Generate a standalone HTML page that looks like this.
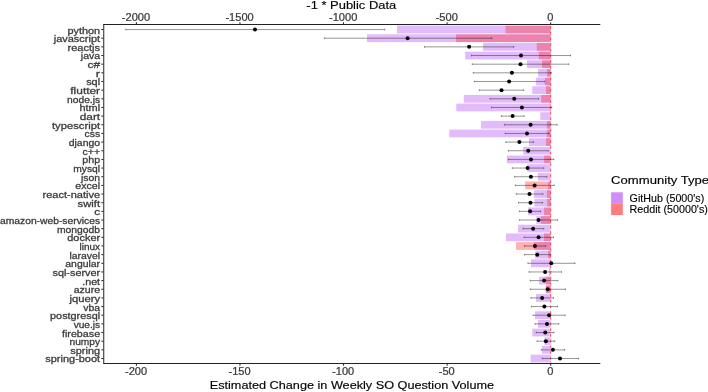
<!DOCTYPE html>
<html><head><meta charset="utf-8"><title>chart</title>
<style>
html,body{margin:0;padding:0;background:#fff;}
body{width:708px;height:392px;overflow:hidden;}
svg{display:block;will-change:transform;opacity:0.999;font-family:"Liberation Sans",sans-serif;}
.yl{font-size:9.6px;fill:#3c3c3c;stroke:#3c3c3c;stroke-width:0.3px;text-anchor:end;}
.xl{font-size:10.2px;fill:#3c3c3c;stroke:#3c3c3c;stroke-width:0.25px;text-anchor:middle;}
.ti{font-size:11.7px;fill:#000;stroke:#000;stroke-width:0.15px;text-anchor:middle;}
.lt{font-size:11.85px;fill:#000;stroke:#000;stroke-width:0.15px;}
.ll{font-size:10.3px;fill:#000;stroke:#000;stroke-width:0.12px;}
</style></head><body>
<svg width="708" height="392" viewBox="0 0 708 392">
<rect width="708" height="392" fill="#fff"/>
<g fill="#a020f0" fill-opacity="0.3">
<rect x="397" y="25.65" width="153.7" height="7.79"/>
<rect x="367" y="34.31" width="183.7" height="7.79"/>
<rect x="483" y="42.97" width="67.7" height="7.79"/>
<rect x="465.1" y="51.63" width="85.6" height="7.79"/>
<rect x="527" y="60.28" width="23.7" height="7.79"/>
<rect x="538.1" y="68.94" width="12.6" height="7.79"/>
<rect x="536.1" y="77.6" width="14.6" height="7.79"/>
<rect x="532.25" y="86.25" width="18.45" height="7.79"/>
<rect x="463.75" y="94.91" width="86.95" height="7.79"/>
<rect x="456.25" y="103.57" width="94.45" height="7.79"/>
<rect x="540.25" y="112.22" width="10.45" height="7.79"/>
<rect x="481" y="120.88" width="69.7" height="7.79"/>
<rect x="449.25" y="129.54" width="101.45" height="7.79"/>
<rect x="529" y="138.2" width="21.7" height="7.79"/>
<rect x="523.25" y="146.85" width="27.45" height="7.79"/>
<rect x="506.9" y="155.51" width="43.8" height="7.79"/>
<rect x="527.25" y="164.17" width="23.45" height="7.79"/>
<rect x="537.9" y="172.82" width="12.8" height="7.79"/>
<rect x="548.1" y="181.48" width="2.6" height="7.79"/>
<rect x="534" y="190.14" width="16.7" height="7.79"/>
<rect x="534.4" y="198.79" width="16.3" height="7.79"/>
<rect x="528.1" y="207.45" width="22.6" height="7.79"/>
<rect x="536.25" y="216.11" width="14.45" height="7.79"/>
<rect x="518.1" y="224.77" width="32.6" height="7.79"/>
<rect x="506" y="233.42" width="44.7" height="7.79"/>
<rect x="534" y="242.08" width="16.7" height="7.79"/>
<rect x="535.25" y="250.74" width="15.45" height="7.79"/>
<rect x="531" y="259.39" width="19.7" height="7.79"/>
<rect x="548.75" y="268.05" width="1.95" height="7.79"/>
<rect x="539.1" y="276.71" width="11.6" height="7.79"/>
<rect x="545.5" y="285.36" width="5.2" height="7.79"/>
<rect x="536" y="294.02" width="14.7" height="7.79"/>
<rect x="535" y="311.34" width="15.7" height="7.79"/>
<rect x="537.9" y="319.99" width="12.8" height="7.79"/>
<rect x="532.25" y="328.65" width="18.45" height="7.79"/>
<rect x="544.4" y="337.31" width="6.3" height="7.79"/>
<rect x="541.9" y="345.96" width="8.8" height="7.79"/>
<rect x="530.6" y="354.62" width="20.1" height="7.79"/>
</g>
<g fill="#ff0000" fill-opacity="0.3">
<rect x="505.5" y="25.65" width="45.2" height="7.79"/>
<rect x="456" y="34.31" width="94.7" height="7.79"/>
<rect x="536.75" y="42.97" width="13.95" height="7.79"/>
<rect x="538.75" y="51.63" width="11.95" height="7.79"/>
<rect x="542" y="60.28" width="8.7" height="7.79"/>
<rect x="547.1" y="68.94" width="3.6" height="7.79"/>
<rect x="545" y="77.6" width="5.7" height="7.79"/>
<rect x="546" y="86.25" width="4.7" height="7.79"/>
<rect x="541.25" y="94.91" width="9.45" height="7.79"/>
<rect x="549.75" y="103.57" width="0.95" height="7.79"/>
<rect x="546.9" y="120.88" width="3.8" height="7.79"/>
<rect x="546.9" y="129.54" width="3.8" height="7.79"/>
<rect x="546" y="138.2" width="4.7" height="7.79"/>
<rect x="544.1" y="155.51" width="6.6" height="7.79"/>
<rect x="525.1" y="181.48" width="25.6" height="7.79"/>
<rect x="546.9" y="190.14" width="3.8" height="7.79"/>
<rect x="547.1" y="198.79" width="3.6" height="7.79"/>
<rect x="544.1" y="207.45" width="6.6" height="7.79"/>
<rect x="541" y="216.11" width="9.7" height="7.79"/>
<rect x="544" y="233.42" width="6.7" height="7.79"/>
<rect x="516" y="242.08" width="34.7" height="7.79"/>
<rect x="548.1" y="250.74" width="2.6" height="7.79"/>
<rect x="545.9" y="276.71" width="4.8" height="7.79"/>
<rect x="546" y="285.36" width="4.7" height="7.79"/>
</g>
<line x1="550.7" y1="24.5" x2="550.7" y2="363.5" stroke="#ff0000" stroke-opacity="0.75" stroke-width="0.85" stroke-dasharray="2.9 2.8" stroke-dashoffset="4.1"/>
<g stroke="#000" stroke-opacity="0.6" stroke-width="0.7" fill="none">
<path d="M125.75 29.55H384.75M125.75 28.68V30.42M384.75 28.68V30.42"/>
<path d="M324.25 38.21H491.75M324.25 37.34V39.07M491.75 37.34V39.07"/>
<path d="M424.5 46.86H513.75M424.5 46V47.73M513.75 46V47.73"/>
<path d="M471.4 55.52H570.5M471.4 54.66V56.39M570.5 54.66V56.39"/>
<path d="M472.25 64.18H568.75M472.25 63.31V65.04M568.75 63.31V65.04"/>
<path d="M473.25 72.83H551.25M473.25 71.97V73.7M551.25 71.97V73.7"/>
<path d="M474.25 81.49H544.75M474.25 80.63V82.36M544.75 80.63V82.36"/>
<path d="M479.25 90.15H523.75M479.25 89.28V91.01M523.75 89.28V91.01"/>
<path d="M490 98.81H538.5M490 97.94V99.67M538.5 97.94V99.67"/>
<path d="M491.5 107.46H551.75M491.5 106.6V108.33M551.75 106.6V108.33"/>
<path d="M501.25 116.12H524.1M501.25 115.25V116.99M524.1 115.25V116.99"/>
<path d="M504.4 124.78H557.1M504.4 123.91V125.64M557.1 123.91V125.64"/>
<path d="M505.25 133.43H549M505.25 132.57V134.3M549 132.57V134.3"/>
<path d="M505.9 142.09H533.4M505.9 141.23V142.96M533.4 141.23V142.96"/>
<path d="M508.4 150.75H548.25M508.4 149.88V151.61M548.25 149.88V151.61"/>
<path d="M508.4 159.41H553.75M508.4 158.54V160.27M553.75 158.54V160.27"/>
<path d="M512.25 168.06H543.75M512.25 167.2V168.93M543.75 167.2V168.93"/>
<path d="M514.6 176.72H546.9M514.6 175.85V177.58M546.9 175.85V177.58"/>
<path d="M515.25 185.38H554.25M515.25 184.51V186.24M554.25 184.51V186.24"/>
<path d="M516.25 194.03H542.9M516.25 193.17V194.9M542.9 193.17V194.9"/>
<path d="M518.5 202.69H542.6M518.5 201.82V203.56M542.6 201.82V203.56"/>
<path d="M519.4 211.35H540.6M519.4 210.48V212.21M540.6 210.48V212.21"/>
<path d="M519.6 220H557.6M519.6 219.14V220.87M557.6 219.14V220.87"/>
<path d="M523 228.66H543.75M523 227.8V229.53M543.75 227.8V229.53"/>
<path d="M524 237.32H553.5M524 236.45V238.18M553.5 236.45V238.18"/>
<path d="M524.4 245.98H545.6M524.4 245.11V246.84M545.6 245.11V246.84"/>
<path d="M524.4 254.63H550.4M524.4 253.77V255.5M550.4 253.77V255.5"/>
<path d="M527.9 263.29H575M527.9 262.42V264.15M575 262.42V264.15"/>
<path d="M529.1 271.95H561.5M529.1 271.08V272.81M561.5 271.08V272.81"/>
<path d="M530.25 280.6H557.9M530.25 279.74V281.47M557.9 279.74V281.47"/>
<path d="M530.25 289.26H565.4M530.25 288.39V290.13M565.4 288.39V290.13"/>
<path d="M531 297.92H553.5M531 297.05V298.78M553.5 297.05V298.78"/>
<path d="M531.5 306.57H557.5M531.5 305.71V307.44M557.5 305.71V307.44"/>
<path d="M533.1 315.23H565.1M533.1 314.37V316.1M565.1 314.37V316.1"/>
<path d="M535 323.89H558.75M535 323.02V324.75M558.75 323.02V324.75"/>
<path d="M536.25 332.55H554M536.25 331.68V333.41M554 331.68V333.41"/>
<path d="M537.1 341.2H554.75M537.1 340.34V342.07M554.75 340.34V342.07"/>
<path d="M541.25 349.86H564.75M541.25 348.99V350.72M564.75 348.99V350.72"/>
<path d="M542.25 358.52H578.5M542.25 357.65V359.38M578.5 357.65V359.38"/>
</g>
<g fill="#000">
<circle cx="255" cy="29.55" r="2"/>
<circle cx="407.6" cy="38.21" r="2"/>
<circle cx="469.1" cy="46.86" r="2"/>
<circle cx="521" cy="55.52" r="2"/>
<circle cx="520.5" cy="64.18" r="2"/>
<circle cx="511.9" cy="72.83" r="2"/>
<circle cx="509.1" cy="81.49" r="2"/>
<circle cx="501.5" cy="90.15" r="2"/>
<circle cx="514.25" cy="98.81" r="2"/>
<circle cx="521.9" cy="107.46" r="2"/>
<circle cx="512.6" cy="116.12" r="2"/>
<circle cx="530.6" cy="124.78" r="2"/>
<circle cx="527" cy="133.43" r="2"/>
<circle cx="519.4" cy="142.09" r="2"/>
<circle cx="528.25" cy="150.75" r="2"/>
<circle cx="531" cy="159.41" r="2"/>
<circle cx="527.6" cy="168.06" r="2"/>
<circle cx="530.9" cy="176.72" r="2"/>
<circle cx="534.6" cy="185.38" r="2"/>
<circle cx="529.5" cy="194.03" r="2"/>
<circle cx="530.5" cy="202.69" r="2"/>
<circle cx="530.1" cy="211.35" r="2"/>
<circle cx="538.6" cy="220" r="2"/>
<circle cx="533.1" cy="228.66" r="2"/>
<circle cx="538.6" cy="237.32" r="2"/>
<circle cx="534.9" cy="245.98" r="2"/>
<circle cx="537.25" cy="254.63" r="2"/>
<circle cx="551.25" cy="263.29" r="2"/>
<circle cx="545.1" cy="271.95" r="2"/>
<circle cx="544.1" cy="280.6" r="2"/>
<circle cx="547.75" cy="289.26" r="2"/>
<circle cx="542.1" cy="297.92" r="2"/>
<circle cx="544.4" cy="306.57" r="2"/>
<circle cx="549.1" cy="315.23" r="2"/>
<circle cx="547" cy="323.89" r="2"/>
<circle cx="545.25" cy="332.55" r="2"/>
<circle cx="545.9" cy="341.2" r="2"/>
<circle cx="552.9" cy="349.86" r="2"/>
<circle cx="560" cy="358.52" r="2"/>
</g>
<g stroke="#222" stroke-width="1" fill="none">
<path d="M103.25 24.5H600.3"/>
<path d="M103.25 363.5H600.3"/>
<path d="M103.75 24.5V363.5"/>
</g>
<g stroke="#222" stroke-width="1" fill="none">
<path d="M101.35 29.55H103.25"/>
<path d="M101.35 38.21H103.25"/>
<path d="M101.35 46.86H103.25"/>
<path d="M101.35 55.52H103.25"/>
<path d="M101.35 64.18H103.25"/>
<path d="M101.35 72.83H103.25"/>
<path d="M101.35 81.49H103.25"/>
<path d="M101.35 90.15H103.25"/>
<path d="M101.35 98.81H103.25"/>
<path d="M101.35 107.46H103.25"/>
<path d="M101.35 116.12H103.25"/>
<path d="M101.35 124.78H103.25"/>
<path d="M101.35 133.43H103.25"/>
<path d="M101.35 142.09H103.25"/>
<path d="M101.35 150.75H103.25"/>
<path d="M101.35 159.41H103.25"/>
<path d="M101.35 168.06H103.25"/>
<path d="M101.35 176.72H103.25"/>
<path d="M101.35 185.38H103.25"/>
<path d="M101.35 194.03H103.25"/>
<path d="M101.35 202.69H103.25"/>
<path d="M101.35 211.35H103.25"/>
<path d="M101.35 220H103.25"/>
<path d="M101.35 228.66H103.25"/>
<path d="M101.35 237.32H103.25"/>
<path d="M101.35 245.98H103.25"/>
<path d="M101.35 254.63H103.25"/>
<path d="M101.35 263.29H103.25"/>
<path d="M101.35 271.95H103.25"/>
<path d="M101.35 280.6H103.25"/>
<path d="M101.35 289.26H103.25"/>
<path d="M101.35 297.92H103.25"/>
<path d="M101.35 306.57H103.25"/>
<path d="M101.35 315.23H103.25"/>
<path d="M101.35 323.89H103.25"/>
<path d="M101.35 332.55H103.25"/>
<path d="M101.35 341.2H103.25"/>
<path d="M101.35 349.86H103.25"/>
<path d="M101.35 358.52H103.25"/>
<path d="M550.7 22.3V24"/>
<path d="M550.7 364V365.7"/>
<path d="M447.13 22.3V24"/>
<path d="M447.13 364V365.7"/>
<path d="M343.55 22.3V24"/>
<path d="M343.55 364V365.7"/>
<path d="M239.98 22.3V24"/>
<path d="M239.98 364V365.7"/>
<path d="M136.4 22.3V24"/>
<path d="M136.4 364V365.7"/>
</g>
<text class="yl" x="100.1" y="33.5" textLength="32.6" lengthAdjust="spacingAndGlyphs">python</text>
<text class="yl" x="100.1" y="42.16" textLength="46.4" lengthAdjust="spacingAndGlyphs">javascript</text>
<text class="yl" x="100.1" y="50.81" textLength="32.6" lengthAdjust="spacingAndGlyphs">reactjs</text>
<text class="yl" x="100.1" y="59.47" textLength="19.3" lengthAdjust="spacingAndGlyphs">java</text>
<text class="yl" x="100.1" y="68.13" textLength="12.6" lengthAdjust="spacingAndGlyphs">c#</text>
<text class="yl" x="100.1" y="76.78" textLength="4.3" lengthAdjust="spacingAndGlyphs">r</text>
<text class="yl" x="100.1" y="85.44" textLength="13.9" lengthAdjust="spacingAndGlyphs">sql</text>
<text class="yl" x="100.1" y="94.1" textLength="29.8" lengthAdjust="spacingAndGlyphs">flutter</text>
<text class="yl" x="100.1" y="102.76" textLength="33.1" lengthAdjust="spacingAndGlyphs">node.js</text>
<text class="yl" x="100.1" y="111.41" textLength="20.6" lengthAdjust="spacingAndGlyphs">html</text>
<text class="yl" x="100.1" y="120.07" textLength="20.3" lengthAdjust="spacingAndGlyphs">dart</text>
<text class="yl" x="100.1" y="128.73" textLength="48.1" lengthAdjust="spacingAndGlyphs">typescript</text>
<text class="yl" x="100.1" y="137.38" textLength="15.6" lengthAdjust="spacingAndGlyphs">css</text>
<text class="yl" x="100.1" y="146.04" textLength="31.4" lengthAdjust="spacingAndGlyphs">django</text>
<text class="yl" x="100.1" y="154.7" textLength="17.6" lengthAdjust="spacingAndGlyphs">c++</text>
<text class="yl" x="100.1" y="163.35" textLength="17.8" lengthAdjust="spacingAndGlyphs">php</text>
<text class="yl" x="100.1" y="172.01" textLength="26.8" lengthAdjust="spacingAndGlyphs">mysql</text>
<text class="yl" x="100.1" y="180.67" textLength="19.1" lengthAdjust="spacingAndGlyphs">json</text>
<text class="yl" x="100.1" y="189.33" textLength="24.8" lengthAdjust="spacingAndGlyphs">excel</text>
<text class="yl" x="100.1" y="197.98" textLength="57.6" lengthAdjust="spacingAndGlyphs">react-native</text>
<text class="yl" x="100.1" y="206.64" textLength="22.6" lengthAdjust="spacingAndGlyphs">swift</text>
<text class="yl" x="100.1" y="215.3" textLength="5.9" lengthAdjust="spacingAndGlyphs">c</text>
<text class="yl" x="100.1" y="223.95" textLength="100.1" lengthAdjust="spacingAndGlyphs">amazon-web-services</text>
<text class="yl" x="100.1" y="232.61" textLength="43.1" lengthAdjust="spacingAndGlyphs">mongodb</text>
<text class="yl" x="100.1" y="241.27" textLength="32.8" lengthAdjust="spacingAndGlyphs">docker</text>
<text class="yl" x="100.1" y="249.93" textLength="20.6" lengthAdjust="spacingAndGlyphs">linux</text>
<text class="yl" x="100.1" y="258.58" textLength="30.6" lengthAdjust="spacingAndGlyphs">laravel</text>
<text class="yl" x="100.1" y="267.24" textLength="34.8" lengthAdjust="spacingAndGlyphs">angular</text>
<text class="yl" x="100.1" y="275.9" textLength="47.6" lengthAdjust="spacingAndGlyphs">sql-server</text>
<text class="yl" x="100.1" y="284.55" textLength="17.8" lengthAdjust="spacingAndGlyphs">.net</text>
<text class="yl" x="100.1" y="293.21" textLength="26.4" lengthAdjust="spacingAndGlyphs">azure</text>
<text class="yl" x="100.1" y="301.87" textLength="30.6" lengthAdjust="spacingAndGlyphs">jquery</text>
<text class="yl" x="100.1" y="310.52" textLength="16.8" lengthAdjust="spacingAndGlyphs">vba</text>
<text class="yl" x="100.1" y="319.18" textLength="50" lengthAdjust="spacingAndGlyphs">postgresql</text>
<text class="yl" x="100.1" y="327.84" textLength="26.4" lengthAdjust="spacingAndGlyphs">vue.js</text>
<text class="yl" x="100.1" y="336.5" textLength="38.1" lengthAdjust="spacingAndGlyphs">firebase</text>
<text class="yl" x="100.1" y="345.15" textLength="30.6" lengthAdjust="spacingAndGlyphs">numpy</text>
<text class="yl" x="100.1" y="353.81" textLength="29.8" lengthAdjust="spacingAndGlyphs">spring</text>
<text class="yl" x="100.1" y="362.47" textLength="54.8" lengthAdjust="spacingAndGlyphs">spring-boot</text>
<text class="xl" transform="translate(550.3 20.6) scale(1.085 1)">0</text>
<text class="xl" transform="translate(550.3 374.8) scale(1.085 1)">0</text>
<text class="xl" transform="translate(446.73 20.6) scale(1.085 1)">-500</text>
<text class="xl" transform="translate(446.73 374.8) scale(1.085 1)">-50</text>
<text class="xl" transform="translate(343.15 20.6) scale(1.085 1)">-1000</text>
<text class="xl" transform="translate(343.15 374.8) scale(1.085 1)">-100</text>
<text class="xl" transform="translate(239.58 20.6) scale(1.085 1)">-1500</text>
<text class="xl" transform="translate(239.58 374.8) scale(1.085 1)">-150</text>
<text class="xl" transform="translate(136 20.6) scale(1.085 1)">-2000</text>
<text class="xl" transform="translate(136 374.8) scale(1.085 1)">-200</text>
<text class="ti" transform="translate(351.3 8.75) scale(1.106 1)">-1 * Public Data</text>
<text class="ti" transform="translate(351.9 388.5) scale(1.085 1)">Estimated Change in Weekly SO Question Volume</text>
<text class="lt" transform="translate(611.1 183.7) scale(1.106 1)">Community Type</text>
<rect x="611.1" y="192.3" width="11.7" height="11.35" fill="#a020f0" fill-opacity="0.51"/>
<rect x="611.1" y="203.65" width="11.7" height="11.35" fill="#ff0000" fill-opacity="0.51"/>
<text class="ll" transform="translate(629.6 201.5) scale(1.04 1)">GitHub (5000's)</text>
<text class="ll" transform="translate(629.6 212.85) scale(1.04 1)">Reddit (50000's)</text>
</svg>
</body></html>
